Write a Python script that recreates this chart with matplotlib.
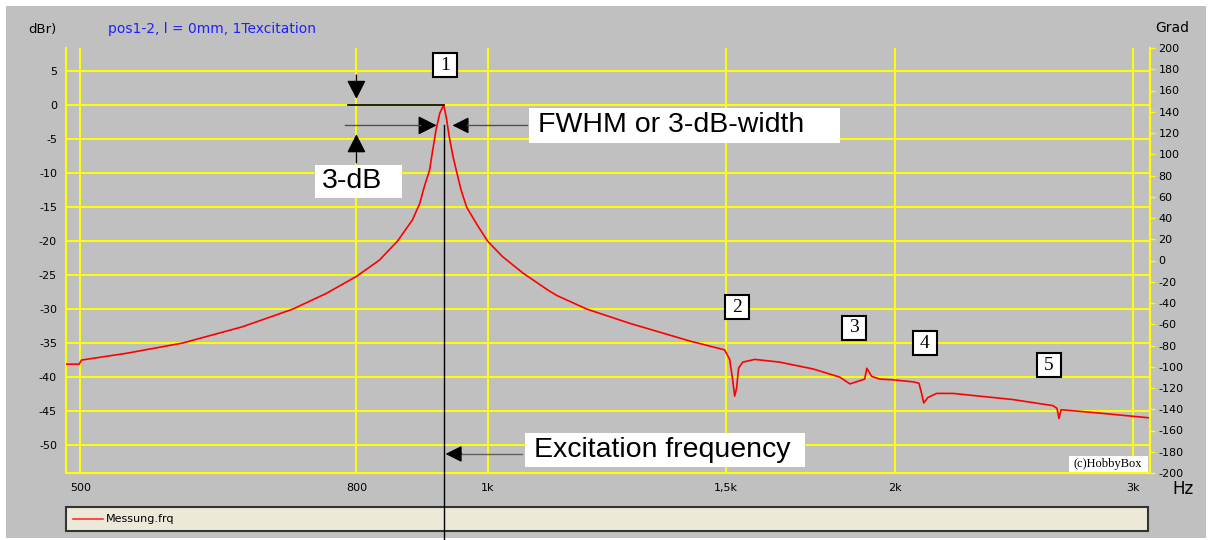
import matplotlib
matplotlib.use("Agg")
import matplotlib.pyplot as plt
from matplotlib.patches import Rectangle
from matplotlib.lines import Line2D

plt.rcParams['axes.unicode_minus'] = False
plt.rcParams['font.family'] = ['DejaVu Sans']

# measured response, frequency (Hz) vs level (dBr)
freq = [488, 499, 501, 541, 595, 659, 718, 760, 800, 832, 858, 880, 891,
        898, 906, 911, 916, 922, 928, 932, 937, 943, 949, 956, 965, 981,
        1000, 1026, 1062, 1108, 1125, 1184, 1274, 1411, 1497, 1510, 1517,
        1523, 1528, 1533, 1544, 1576, 1644, 1740, 1821, 1853, 1900, 1907,
        1923, 1950, 1993, 2063, 2084, 2094, 2101, 2116, 2148, 2208, 2445,
        2618, 2636, 2645, 2654, 2836, 3088]
level = [-38.1, -38.1, -37.5, -36.5, -35.0, -32.6, -30.0, -27.7, -25.2,
         -22.8, -20.0, -16.9, -14.5, -12.0, -9.6, -6.6, -3.7, -1.2, 0.0,
         -1.7, -4.7, -7.6, -9.9, -12.5, -15.0, -17.4, -20.0, -22.3, -24.7,
         -27.2, -28.0, -30.0, -32.1, -34.7, -36.0, -37.4, -40.1, -42.8,
         -41.6, -38.7, -37.8, -37.4, -37.8, -38.8, -40.0, -41.0, -40.3,
         -38.7, -39.9, -40.3, -40.4, -40.7, -40.9, -42.5, -43.8, -43.0,
         -42.4, -42.4, -43.3, -44.2, -44.6, -46.1, -44.8, -45.3, -46.0]

f_peak = 928          # excitation / resonance frequency
f_lo, f_hi = 917, 942 # half-power points
half_power = -3.0
f_ref = 800           # where the 3-dB arrows sit

x_ticks = [500, 800, 1000, 1500, 2000, 3000]
x_labels = ['500', '800', '1k', '1,5k', '2k', '3k']
y_ticks = list(range(5, -51, -5))
phase_ticks = list(range(-200, 201, 20))

W, H = 1209, 540
GRAY = '#c0c0c0'
YEL = '#ffff00'


def fx(px):
    return px / W


def fy(py):
    return 1 - py / H


fig = plt.figure(figsize=(W / 100, H / 100), dpi=100, facecolor='white')
fig.add_artist(Rectangle((fx(6), fy(538)), fx(1206) - fx(6), fy(6) - fy(538),
                         transform=fig.transFigure, fc=GRAY, ec='none', zorder=-1))

ax = fig.add_axes([fx(66), fy(473), fx(1150) - fx(66), fy(48) - fy(473)])
ax.set_facecolor(GRAY)
ax.set_xscale('log')
ax.set_xlim(488, 3088)
ax.set_ylim(-54.1, 8.38)
ax.set_xticks(x_ticks)
ax.set_xticklabels(x_labels)
ax.xaxis.set_minor_locator(matplotlib.ticker.NullLocator())
ax.set_yticks(y_ticks)
ax.set_yticklabels([str(v) for v in y_ticks])
ax.tick_params(axis='both', length=0, labelsize=8, colors='black')
ax.tick_params(axis='x', pad=7)
ax.tick_params(axis='y', pad=6.5)
ax.grid(True, color=YEL, lw=1.4)
for side in ['left', 'bottom', 'right']:
    ax.spines[side].set_color(YEL)
    ax.spines[side].set_linewidth(1.5)
ax.spines['top'].set_visible(False)

ax.plot(freq, level, color='#ff0000', lw=1.2, zorder=3)

# phase axis on the right
ax2 = ax.twinx()
ax2.set_ylim(-200, 200)
ax2.set_yticks(phase_ticks)
ax2.set_yticklabels([str(v) for v in phase_ticks])
ax2.tick_params(axis='y', length=3.6, width=1, color=YEL, labelsize=8,
                labelcolor='black', pad=2.5)
for side in ['left', 'bottom', 'top']:
    ax2.spines[side].set_visible(False)
ax2.spines['right'].set_color(YEL)
ax2.spines['right'].set_linewidth(1.5)

# header texts
fig.text(fx(28), fy(29), 'dBr)', fontsize=9.5, va='center', ha='left')
fig.text(fx(108), fy(29), 'pos1-2, l = 0mm, 1Texcitation', fontsize=10,
         color='#2020ff', va='center', ha='left')
fig.text(fx(1155), fy(28), 'Grad', fontsize=10, va='center', ha='left')
fig.text(fx(1172), fy(489), 'Hz', fontsize=12, va='center', ha='left')

# 3-dB / FWHM markers
ax.plot([789, f_peak], [0, 0], color='black', lw=1.2, zorder=4)
ax.plot([784, 892], [half_power, half_power], color='#505050', lw=1, zorder=4)
ax.plot([965, 1069], [half_power, half_power], color='#505050', lw=1, zorder=4)

big_head = dict(arrowstyle='-|>,head_length=0.57,head_width=0.29',
                mutation_scale=20, color='black', lw=1, shrinkA=0, shrinkB=0)
small_head = dict(arrowstyle='-|>,head_length=0.5,head_width=0.25',
                  mutation_scale=20, color='black', lw=1, shrinkA=0, shrinkB=0)
ax.annotate('', xy=(f_ref, 0.9), xytext=(f_ref, 4.4), arrowprops=big_head)
ax.annotate('', xy=(f_ref, -4.3), xytext=(f_ref, -8.5), arrowprops=big_head)
ax.annotate('', xy=(f_lo, half_power), xytext=(892, half_power),
            arrowprops=big_head)
ax.annotate('', xy=(f_hi, half_power), xytext=(965, half_power),
            arrowprops=small_head)

# excitation frequency arrow
ax.plot([957, 1060], [-51.3, -51.3], color='#606060', lw=1, zorder=4)
ax.annotate('', xy=(931, -51.3), xytext=(957, -51.3), arrowprops=small_head)

fig.canvas.draw()
inv = fig.transFigure.inverted()
vx, vy = inv.transform(ax.transData.transform((f_peak, half_power)))
fig.add_artist(Line2D([vx, vx], [vy, 0], color='black', lw=1, zorder=8))


def label_box(x0, y0, x1, y1, text, tx, size, family='Liberation Sans',
              ec='none', lw=0, ha='left'):
    fig.add_artist(Rectangle((fx(x0), fy(y1)), fx(x1) - fx(x0), fy(y0) - fy(y1),
                             transform=fig.transFigure, fc='white', ec=ec,
                             lw=lw, zorder=6))
    fig.text(fx(tx), fy((y0 + y1) / 2), text, fontsize=size, family=family,
             ha=ha, va='center', zorder=7)


label_box(529, 108, 840, 143, 'FWHM or 3-dB-width', 538, 20.5)
label_box(315, 165, 402, 198, '3-dB', 322, 20.5)
label_box(525, 433, 805, 467, 'Excitation frequency', 534, 20.5)
label_box(1069, 456, 1148, 472, '(c)HobbyBox', 1108, 9,
          family='Liberation Serif', ha='center')

# mode numbers
for n, (cx, cy) in enumerate([(445, 65), (737, 307), (854, 328),
                              (925, 343), (1049, 365)], start=1):
    label_box(cx - 12, cy - 12, cx + 12, cy + 12, str(n), cx, 14,
              family='Liberation Serif', ec='black', lw=1.5, ha='center')

# legend strip
fig.add_artist(Rectangle((fx(66), fy(531)), fx(1148) - fx(66), fy(507) - fy(531),
                         transform=fig.transFigure, fc='#ece9d8', ec='#333333',
                         lw=1.5, zorder=5))
fig.add_artist(Line2D([fx(73), fx(103)], [fy(519), fy(519)], color='#ff3030',
                      lw=1.2, zorder=6))
fig.text(fx(106), fy(519), 'Messung.frq', fontsize=8, va='center', ha='left',
         zorder=6)

fig.savefig('out.png', dpi=100, facecolor='white')
